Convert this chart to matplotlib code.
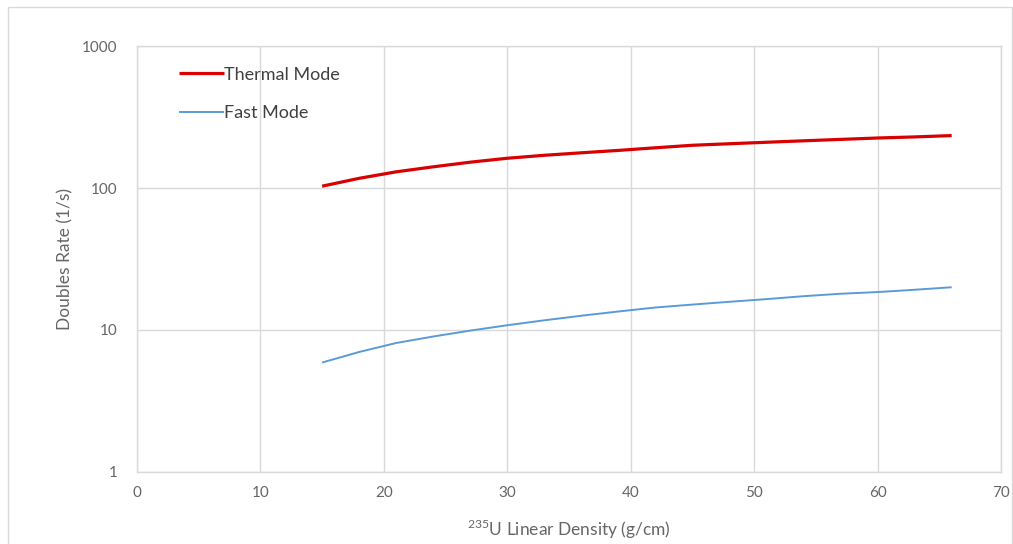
import matplotlib.pyplot as plt
from matplotlib.patches import Rectangle

plt.rcParams['font.family'] = ['Lato', 'DejaVu Sans']
plt.rcParams['mathtext.fontset'] = 'custom'
plt.rcParams['mathtext.rm'] = 'Lato'

# U-235 linear density (g/cm) and doubles rate (1/s)
density = [15, 18, 21, 24, 27, 30, 33, 36, 39, 42, 45, 48, 51, 54, 57, 60, 63, 66]
thermal_rate = [103, 117, 130, 141, 152, 162, 170, 177, 184, 192, 200, 205, 210, 215, 220, 225, 229, 234]
fast_rate = [5.9, 7.0, 8.1, 9.0, 9.9, 10.8, 11.7, 12.6, 13.5, 14.4, 15.1, 15.8, 16.5, 17.3, 18.0, 18.5, 19.2, 20.0]

x_ticks = [0, 10, 20, 30, 40, 50, 60, 70]
y_ticks = [1, 10, 100, 1000]

grid_c = '#d9d9d9'
tick_c = '#666666'

fig = plt.figure(figsize=(10.13, 5.44), dpi=100)
ax = fig.add_axes([0.1352, 0.1324, 0.8530, 0.7830])

# chart area border
fig.patches.append(Rectangle((8 / 1013, -0.05), 1004 / 1013, 1.05 - 7 / 544,
                             transform=fig.transFigure, fill=False,
                             edgecolor=grid_c, linewidth=1))

ax.plot(density, thermal_rate, color='#d80000', linewidth=2.3, label='Thermal Mode',
        solid_capstyle='butt')
ax.plot(density, fast_rate, color='#5b9bd5', linewidth=1.4, label='Fast Mode',
        solid_capstyle='butt')

ax.set_yscale('log')
ax.set_xlim(0, 70)
ax.set_ylim(1, 1000)
ax.set_xticks(x_ticks)
ax.set_xticklabels([str(v) for v in x_ticks])
ax.set_yticks(y_ticks)
ax.set_yticklabels([str(v) for v in y_ticks])
ax.minorticks_off()

ax.grid(True, color=grid_c, linewidth=1)
ax.set_axisbelow(True)
for s in ax.spines.values():
    s.set_color(grid_c)
    s.set_linewidth(1)
ax.tick_params(length=0, labelsize=11, colors=tick_c, pad=14)
ax.tick_params(axis='x', pad=10)

ax.set_xlabel('$^{235}$U Linear Density (g/cm)', fontsize=12.5, color=tick_c, labelpad=13)
ax.set_ylabel('Doubles Rate (1/s)', fontsize=12.5, color=tick_c, labelpad=6)

ax.legend(loc='upper left', bbox_to_anchor=(0.03, 0.99), frameon=False,
          fontsize=13, handlelength=2.5, handletextpad=0.0, labelspacing=1.25,
          labelcolor='#404040')

fig.savefig('out.png', dpi=100)
